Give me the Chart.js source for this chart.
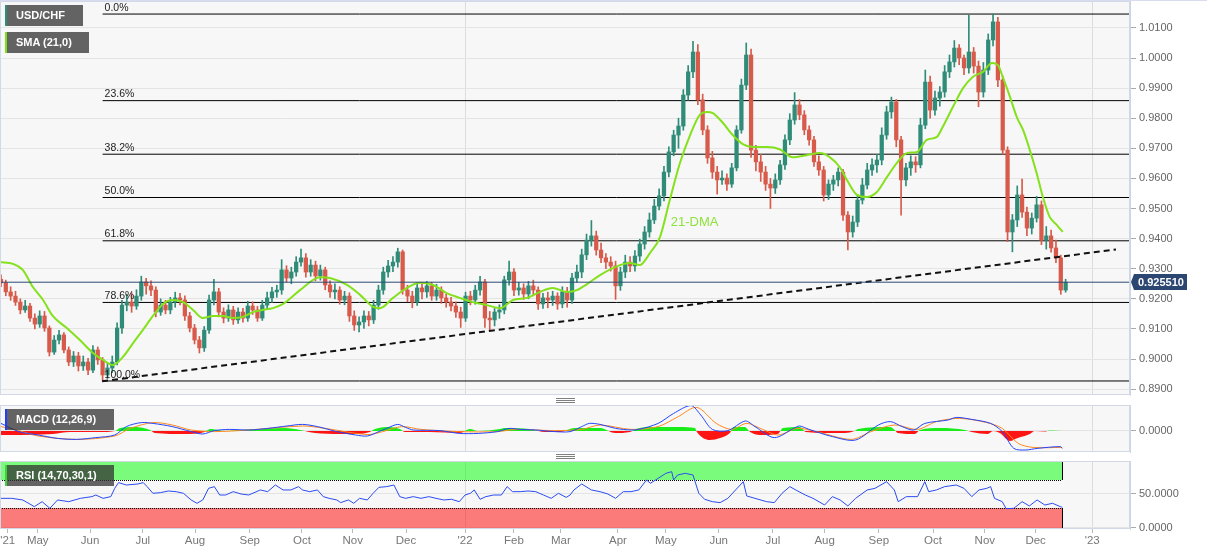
<!DOCTYPE html>
<html><head><meta charset="utf-8">
<script src="https://cdn.jsdelivr.net/npm/chart.js@4.4.1/dist/chart.umd.min.js"></script>
<style>
html,body{margin:0;padding:0;background:#fff;width:1207px;height:555px;overflow:hidden;font-family:"Liberation Sans",Arial,sans-serif}
canvas{position:absolute;left:0}
.tag{position:absolute;left:5px;height:21px;line-height:21px;color:#fff;font-weight:bold;font-size:11px;padding-left:11px;background:rgba(50,50,50,0.75);box-sizing:border-box;z-index:5;white-space:nowrap}
.tag i{position:absolute;left:0;top:0;width:2px;height:100%}
.h{position:absolute;left:556px;width:19px;height:1px;background:#808080;z-index:5}
</style></head><body>
<canvas id="main" width="1207" height="397" style="top:0"></canvas>
<canvas id="macd" width="1207" height="51" style="top:403px"></canvas>
<canvas id="rsi" width="1207" height="97" style="top:458px"></canvas>
<div class="tag" style="top:5px;width:78px"><i style="background:#2f8c78"></i>USD/CHF</div>
<div class="tag" style="top:32px;width:84px"><i style="background:#7fe010"></i>SMA (21,0)</div>
<div class="tag" style="top:409px;width:109px"><i style="background:#1f3dff"></i>MACD (12,26,9)</div>
<div class="tag" style="top:465px;width:109px"><i style="background:#3ad33a"></i>RSI (14,70,30,1)</div>
<div class="h" style="top:398px"></div><div class="h" style="top:400px"></div><div class="h" style="top:402px"></div>
<div class="h" style="top:454px"></div><div class="h" style="top:456px"></div><div class="h" style="top:458px"></div>
<script>
// ---------- DATA ----------
// candles: one candle per two trading days, index 0 = mid-April 2021
const openFirst = 0.9265;
const closes = [
.9253,.9223,.9209,.9189,.9163,.9176,.9136,.9116,.9143,.9103,
.9023,.9063,.9080,.9030,.8990,.9010,.8977,.8990,.8963,.9030,
.8997,.8947,.8970,.8990,.9103,.9179,.9189,.9176,.9209,.9256,
.9243,.9229,.9156,.9179,.9163,.9189,.9203,.9196,.9143,.9103,
.9063,.9037,.9096,.9196,.9223,.9156,.9136,.9163,.9130,.9156,
.9136,.9176,.9163,.9136,.9179,.9203,.9223,.9229,.9296,.9269,
.9289,.9322,.9336,.9289,.9312,.9276,.9296,.9246,.9223,.9229,
.9196,.9209,.9143,.9113,.9123,.9143,.9130,.9179,.9229,.9289,
.9309,.9322,.9356,.9229,.9209,.9189,.9236,.9223,.9243,.9209,
.9229,.9203,.9189,.9176,.9156,.9136,.9209,.9196,.9229,.9256,
.9136,.9130,.9156,.9163,.9263,.9289,.9229,.9236,.9216,.9243,
.9229,.9183,.9203,.9196,.9209,.9183,.9223,.9196,.9269,.9289,
.9346,.9395,.9409,.9362,.9336,.9322,.9309,.9243,.9289,.9322,
.9309,.9342,.9382,.9422,.9462,.9508,.9542,.9621,.9688,.9744,
.9774,.9877,.9954,1.0020,.9861,.9761,.9668,.9621,.9595,.9601,
.9581,.9635,.9761,.9910,1.0010,.9694,.9655,.9621,.9581,.9568,
.9595,.9645,.9728,.9794,.9844,.9811,.9761,.9728,.9655,.9628,
.9545,.9581,.9595,.9621,.9478,.9422,.9455,.9528,.9578,.9628,
.9645,.9661,.9744,.9821,.9854,.9728,.9595,.9635,.9655,.9645,
.9777,.9920,.9827,.9867,.9887,.9954,.9987,1.0033,1.0000,.9967,
1.0020,.9973,.9887,.9960,1.0060,1.0120,.9927,.9694,.9422,.9462,
.9545,.9488,.9435,.9468,.9512,.9395,.9409,.9369,.9336,.9229,
.92551];
const highs = [
.9280,.9262,.9240,.9225,.9200,.9195,.9185,.9150,.9160,.9158,
.9110,.9078,.9095,.9088,.9040,.9025,.9022,.9010,.9002,.9045,
.9040,.9005,.8988,.9010,.9120,.9195,.9215,.9220,.9230,.9275,
.9268,.9260,.9240,.9200,.9195,.9205,.9222,.9218,.9210,.9155,
.9115,.9075,.9108,.9212,.9265,.9235,.9170,.9180,.9175,.9170,
.9168,.9192,.9190,.9175,.9195,.9222,.9238,.9245,.9330,.9310,
.9305,.9340,.9365,.9350,.9330,.9325,.9312,.9305,.9260,.9250,
.9240,.9225,.9220,.9160,.9140,.9160,.9158,.9195,.9245,.9305,
.9328,.9340,.9368,.9362,.9245,.9225,.9255,.9250,.9258,.9255,
.9248,.9240,.9215,.9205,.9190,.9172,.9222,.9225,.9245,.9275,
.9265,.9158,.9168,.9180,.9275,.9325,.9300,.9255,.9250,.9258,
.9262,.9240,.9218,.9222,.9225,.9220,.9240,.9238,.9285,.9312,
.9365,.9415,.9460,.9425,.9385,.9350,.9340,.9325,.9305,.9345,
.9340,.9360,.9398,.9440,.9485,.9530,.9565,.9640,.9705,.9760,
.9800,.9895,.9975,1.0055,1.0045,.9880,.9775,.9690,.9640,.9625,
.9615,.9650,.9775,.9930,1.0050,1.0030,.9710,.9680,.9640,.9600,
.9615,.9660,.9745,.9815,.9885,.9862,.9825,.9775,.9740,.9675,
.9640,.9595,.9610,.9635,.9630,.9490,.9475,.9545,.9600,.9650,
.9665,.9680,.9768,.9840,.9870,.9862,.9740,.9650,.9675,.9672,
.9800,.9960,.9940,.9890,.9905,.9975,1.0010,1.0058,1.0045,1.0010,
1.0143,1.0035,.9990,.9985,1.0080,1.0147,1.0135,.9940,.9705,.9480,
.9575,.9598,.9505,.9485,.9540,.9525,.9440,.9428,.9395,.9345,
.9265];
const lows = [
.9240,.9210,.9195,.9178,.9150,.9155,.9125,.9100,.9105,.9092,
.9010,.9015,.9050,.9020,.8978,.8975,.8960,.8962,.8948,.8955,
.8982,.8927,.8935,.8955,.8980,.9085,.9160,.9155,.9165,.9195,
.9215,.9210,.9140,.9145,.9150,.9150,.9172,.9180,.9128,.9090,
.9050,.9020,.9025,.9085,.9180,.9140,.9120,.9125,.9115,.9118,
.9122,.9125,.9148,.9125,.9128,.9165,.9188,.9205,.9215,.9255,
.9250,.9275,.9308,.9272,.9275,.9260,.9262,.9230,.9205,.9200,
.9182,.9180,.9125,.9095,.9090,.9102,.9110,.9118,.9165,.9215,
.9272,.9290,.9305,.9215,.9190,.9170,.9178,.9200,.9205,.9195,
.9195,.9185,.9172,.9160,.9138,.9105,.9125,.9180,.9182,.9212,
.9105,.9095,.9110,.9135,.9150,.9245,.9210,.9212,.9198,.9200,
.9210,.9165,.9168,.9170,.9178,.9165,.9170,.9172,.9185,.9255,
.9270,.9330,.9375,.9345,.9320,.9300,.9292,.9198,.9228,.9270,
.9290,.9292,.9325,.9365,.9405,.9450,.9495,.9525,.9605,.9675,
.9700,.9760,.9860,.9935,.9845,.9745,.9650,.9600,.9548,.9580,
.9560,.9570,.9625,.9750,.9895,.9670,.9625,.9590,.9560,.9500,
.9550,.9580,.9630,.9712,.9780,.9795,.9745,.9710,.9640,.9610,
.9525,.9530,.9560,.9575,.9460,.9362,.9405,.9440,.9515,.9565,
.9610,.9620,.9645,.9730,.9800,.9705,.9478,.9575,.9610,.9620,
.9635,.9765,.9800,.9810,.9840,.9870,.9935,.9970,.9978,.9945,
.9950,.9950,.9838,.9870,.9945,1.0040,.9905,.9680,.9390,.9356,
.9440,.9470,.9410,.9415,.9455,.9380,.9365,.9355,.9320,.9215,
.9222];
// 21-day SMA: [candle index, value]
const sma21 = [[-0.2,0.9322],[2.5,0.9316],[4.5,0.9296],[6.6,0.9239],[8.7,0.9196],[10.7,0.9143],[13.6,0.9103],[16.3,0.9063],[19,0.9020],[21.1,0.8997],[23.1,0.8980],[25.2,0.9007],[27.3,0.9053],[29.3,0.9096],[31.4,0.9143],[33.5,0.9183],[35.5,0.9196],[37.6,0.9189],[39.7,0.9163],[41.7,0.9136],[43.8,0.9143],[45.9,0.9143],[47.9,0.9136],[50,0.9140],[52.1,0.9156],[54.1,0.9163],[56.2,0.9169],[58.3,0.9183],[61.8,0.9229],[65.9,0.9272],[68,0.9269],[71.5,0.9246],[74.2,0.9213],[76.9,0.9173],[78.3,0.9169],[81,0.9203],[83.9,0.9236],[86.6,0.9253],[89.3,0.9246],[92.1,0.9219],[94.8,0.9203],[97.5,0.9189],[100.4,0.9179],[103.1,0.9169],[105.8,0.9196],[108.7,0.9203],[111.4,0.9223],[114,0.9236],[116.9,0.9223],[119,0.9229],[121.1,0.9249],[123.8,0.9279],[127.9,0.9312],[130,0.9319],[132,0.9312],[134.1,0.9352],[136.2,0.9406],[138.2,0.9528],[140.3,0.9651],[142.4,0.9744],[144.4,0.9811],[145.9,0.9821],[147.1,0.9817],[149.2,0.9784],[151.2,0.9744],[153.3,0.9714],[155.4,0.9704],[158.3,0.9704],[160.9,0.9697],[163.6,0.9670],[166.5,0.9677],[169.2,0.9684],[171.3,0.9670],[173.3,0.9638],[174.8,0.9595],[176.9,0.9545],[178.9,0.9538],[181,0.9555],[183.1,0.9605],[185.1,0.9651],[187.2,0.9684],[189.3,0.9688],[191.3,0.9728],[193.4,0.9738],[194.6,0.9771],[196.7,0.9837],[198.8,0.9900],[200.8,0.9937],[202.9,0.9954],[204.8,0.9983],[206,0.9977],[207,0.9937],[208.5,0.9871],[209.9,0.9804],[211.2,0.9761],[212.6,0.9694],[214,0.9618],[215.3,0.9538],[216.7,0.9472],[218.2,0.9445],[219.4,0.9422]];
// Fibonacci retracement anchors and levels
const fibHigh = 1.0146, fibLow = 0.8927, fibStartIdx = 21;
const fibPct = [0, 23.6, 38.2, 50, 61.8, 78.6, 100];
// trend line anchors
const trendX = [20.9, 230.4], trendY = [0.8926, 0.9364];
const lastPrice = 0.92551;
const dmaLabel = {text:'21-DMA', idx:138.4, value:0.9455};
const priceTicks = [0.89,0.90,0.91,0.92,0.93,0.94,0.95,0.96,0.97,0.98,0.99,1.00,1.01];
// MACD (12,26,9): [candle index, value]
const macdLine = [[0,0.0038],[3.7,-0.0003],[7.7,-0.0020],[11.7,-0.0037],[15.6,-0.0042],[19.6,-0.0033],[23.5,-0.0020],[25.9,0.0022],[29,0.0042],[31.4,0.0038],[35.4,0.0022],[39.3,-0.0003],[41.7,-0.0015],[44.1,0.0002],[47.2,0.0008],[51.2,0.0005],[55.1,0.0013],[59.1,0.0025],[62.3,0.0033],[65.4,0.0022],[69.4,-0.0003],[73.3,-0.0020],[75.7,-0.0025],[78.1,-0.0003],[79.7,0.0013],[82,0.0033],[83.6,0.0018],[85.2,0.0005],[90.7,0.0002],[94.7,-0.0012],[98.6,-0.0012],[102.6,-0.0003],[105,0.0013],[107.3,0.0008],[110.5,0.0005],[114.4,-0.0003],[117.6,-0.0003],[120,0.0022],[121.6,0.0038],[123.8,0.0033],[127,0.0013],[130.2,0.0005],[131.8,0.0008],[135.8,0.0038],[139,0.0088],[142.6,0.0127],[144.6,0.0080],[147,0.0008],[150.2,0.0002],[153.8,0.0050],[155.8,0.0022],[159.8,-0.0033],[163.8,0.0013],[165,0.0025],[167,0.0008],[171.8,-0.0028],[176.6,-0.0045],[181.3,0.0030],[183.8,0.0047],[186.2,0.0022],[188.6,0.0005],[190.9,0.0038],[195.7,0.0055],[197.4,0.0068],[200.6,0.0058],[204.5,0.0038],[206.9,-0.0003],[209.3,-0.0087],[211.8,-0.0095],[214.1,-0.0087],[218.9,-0.0078],[219.3,-0.0087]];
const signalLine = [[0,0.0022],[3.7,0.0002],[7.7,-0.0025],[15.6,-0.0042],[23.5,-0.0025],[26.7,0.0013],[31.4,0.0042],[35.4,0.0030],[39.3,0.0005],[44.1,-0.0003],[51.2,0.0005],[62.3,0.0025],[67,0.0013],[75.7,-0.0018],[78.9,-0.0003],[82.8,0.0022],[86.8,0.0008],[94.7,-0.0003],[102.6,-0.0003],[106.5,0.0008],[114.4,0.0002],[120,0.0008],[123.8,0.0030],[130.2,0.0008],[135.8,0.0022],[139.8,0.0070],[143.8,0.0118],[147.8,0.0038],[151,0.0008],[154.1,0.0038],[157.4,0.0008],[160.6,-0.0020],[164.5,0.0013],[168.5,-0.0003],[175.7,-0.0042],[179.8,-0.0003],[184.6,0.0030],[189.4,0.0008],[193.3,0.0047],[198.1,0.0063],[203.7,0.0042],[206.9,0.0013],[210.2,-0.0062],[213.3,-0.0082],[219.3,-0.0082]];
const macdHist = [[-0.2,-0.0020],[3.9,-0.0020],[10.7,-0.0015],[14.3,-0.0005],[20.5,-0.0005],[23.6,0],[24.6,0.0015],[27.7,0.0020],[30.8,0.0005],[31.8,-0.0010],[38,-0.0015],[42.1,-0.0005],[43.2,0.0010],[46.3,0],[49.4,0.0005],[53.5,0.0010],[58.7,0.0015],[61.8,0.0005],[64.9,-0.0010],[70,-0.0015],[73.1,-0.0015],[76.2,-0.0005],[77.3,0.0010],[80.4,0.0020],[82.4,0.0010],[83.5,-0.0005],[88.6,-0.0005],[94.8,-0.0010],[96.9,0.0010],[98.6,0],[103.1,0.0010],[104.1,0.0015],[109.3,0.0010],[112.4,-0.0005],[115.5,-0.0005],[118.6,0.0015],[123.8,0.0015],[126.9,-0.0010],[130,-0.0005],[131.2,0.0010],[134.1,0.0020],[140.3,0.0020],[143.4,0.0015],[143.8,-0.0005],[146.5,-0.0045],[148.6,-0.0035],[150.6,-0.0010],[151.4,0.0020],[153.7,0.0020],[154.8,-0.0005],[156.8,-0.0020],[160.5,-0.0015],[161.6,0.0015],[165.1,0.0020],[166.3,-0.0005],[171.3,-0.0010],[174.4,-0.0010],[176.4,0],[177.1,0.0010],[183.7,0.0020],[184.7,0.0005],[185.3,-0.0010],[188.8,-0.0015],[189.9,0.0005],[194,0.0015],[199.2,0.0005],[200.6,-0.0005],[203.9,-0.0015],[205,0],[206.4,-0.0010],[208.5,-0.0050],[210.1,-0.0035],[212.6,-0.0015],[213.6,0],[215.7,-0.0003],[216.7,0.0003],[219.4,0]];
// RSI (14): [candle index, value]
const rsi14 = [[0,43.6],[2.2,43.6],[4.5,41.2],[6.9,31.4],[8.5,38.7],[10.1,28.9],[11.7,41.2],[14,38.7],[16.4,43.6],[18.8,46.1],[19.6,48.5],[21.1,43.6],[22.7,46.1],[23.5,58.3],[24.3,66.7],[25.9,63.2],[28.3,64.7],[29.4,66.7],[30.2,60.8],[31.4,51],[33,52],[34.6,54.4],[36.2,53.4],[37.7,51],[39.3,41.2],[40.5,36.3],[41.7,41.2],[42.9,58.3],[44.1,60.8],[45.2,48.5],[46.4,48.5],[48,53.4],[49.6,50],[51.2,48.5],[53.6,55.9],[55.1,53.4],[56.7,63.2],[58.3,55.9],[59.9,55.9],[61.5,60.8],[62.3,55.9],[63.8,53.4],[65.4,55.9],[66.6,46.1],[67.8,43.6],[69.4,41.2],[70.2,37.3],[71.8,41.2],[72.9,36.3],[74.1,43.6],[75.7,41.2],[76.9,51],[78.1,59.8],[79.7,60.8],[81.2,63.2],[82.4,46.1],[83.6,43.6],[85.2,46.1],[86.8,43.6],[88.4,46.1],[89.9,43.6],[91.5,41.2],[93.1,42.2],[94.7,38.7],[95.9,48.5],[97,51],[97.8,55.9],[99,42.2],[100.2,46.1],[101.8,48.5],[103.4,48.5],[104.6,60.8],[105.7,53.4],[107.3,53.4],[108.9,54.4],[110.5,53.4],[112.1,48.5],[113.7,43.6],[115.2,51],[116.8,45],[117.6,48.5],[118.4,55.9],[120,64.7],[122,55.9],[123.8,53.4],[125.4,50],[127,43.6],[128.6,53.4],[130.2,53.4],[131.8,55.9],[133.4,70.6],[134.2,65.7],[135.8,73],[137.4,80.4],[138.6,82.8],[139,70.6],[139.8,77.9],[141.4,80.4],[143,77.9],[144.2,51],[145.4,42.2],[147,38.7],[148.6,37.3],[150.2,43.6],[151.8,55.9],[153.4,68.1],[154.1,47.1],[155.8,43.6],[158.2,38.7],[159.8,37.3],[161.4,51],[163,60.8],[164.5,54.9],[166.2,48.5],[167.8,43.6],[170.2,33.8],[171.8,46.1],[173.4,41.2],[175,32.4],[176.6,43.6],[179,55.9],[180.6,58.3],[183,68.1],[184.6,55.9],[185.4,38.7],[187.1,46.1],[189.4,46.1],[190.9,68.1],[191.7,53.4],[193.3,55.9],[195,60.8],[197.4,63.2],[199,58.3],[200.6,46.1],[202.1,55.9],[203.7,58.3],[204.5,60.8],[205.3,43.6],[206.9,38.7],[207.7,28.4],[209.3,28.9],[211,38.7],[212.5,32.4],[214.1,41.2],[215.7,33.8],[217.3,36.3],[218.9,31.4],[219.3,30.4]];
const rsiUpper = 70, rsiLower = 30;
// time axis labels (candle index positions)
const monthLabels = ["'21","May","Jun","Jul","Aug","Sep","Oct","Nov","Dec","'22","Feb","Mar","Apr","May","Jun","Jul","Aug","Sep","Oct","Nov","Dec","'23"];
const monthIdx = [1.4,7.6,18.4,29.3,40.1,51.4,62.2,72.7,83.7,95.9,106,115.7,127.5,137.4,148.3,159.5,170.2,181.4,192.6,203.3,213.8,225.5];
const yearIdx = [95.9,225.5];

// ---------- STYLE / BUILD ----------
const FONT = '"Liberation Sans", Arial, sans-serif';
Chart.defaults.font.family = FONT;
const GREEN = '#2f8c78', RED = '#d75a4a';
const X_MIN = -0.2, X_MAX = 233.3;
const opens = closes.map((c,i) => i === 0 ? openFirst : closes[i-1]);
const candleColors = closes.map((c,i) => c >= opens[i] ? GREEN : RED);
const toXY = arr => arr.map(p => ({x:p[0], y:p[1]}));
const fibLevels = fibPct.map(p => fibHigh - (fibHigh - fibLow) * p / 100);

const fixY = s => { s.width = 77; s.paddingTop = 0; s.paddingBottom = 0; };
const hiddenX = () => ({
  type:'linear', min:X_MIN, max:X_MAX, offset:false,
  afterBuildTicks: s => { s.ticks = yearIdx.map(v => ({value:v})); },
  ticks:{display:false}, grid:{color:'#dcdcdc', drawTicks:false, offset:false}, border:{display:false},
  afterFit: s => { s.height = 0; s.paddingLeft = 0; s.paddingRight = 0; }
});
const yAxisBase = {
  position:'right',
  ticks:{color:'#666', font:{size:11, family:FONT}, padding:3},
  grid:{color:'#e4e4e4', tickLength:6, tickColor:'#aaa'},
  border:{display:true, color:'#cfd6e3'},
  afterFit: fixY
};
const panelBg = {
  id:'panelBg',
  beforeDraw(c){ const a=c.chartArea, ctx=c.ctx; ctx.save(); ctx.fillStyle='#f7f7f7'; ctx.fillRect(a.left,a.top,a.right-a.left,a.bottom-a.top); ctx.restore(); },
  afterDraw(c){ const a=c.chartArea, ctx=c.ctx; ctx.save(); ctx.strokeStyle='#d2d9e6'; ctx.lineWidth=1; ctx.strokeRect(a.left+0.5,a.top+0.5,a.right-a.left-1,a.bottom-a.top-1); ctx.restore(); }
};
const common = {responsive:false, animation:false, events:[], devicePixelRatio:1,
  plugins:{legend:{display:false}, tooltip:{enabled:false}}};

// main chart decorations
const mainDeco = {
  id:'mainDeco',
  afterDatasetsDraw(c){
    const ctx=c.ctx, xs=c.scales.x, ys=c.scales.y;
    ctx.save();
    ctx.font = '10.5px ' + FONT; ctx.fillStyle = '#222'; ctx.textAlign='left'; ctx.textBaseline='bottom';
    fibPct.forEach((p,k) => ctx.fillText(p.toFixed(1)+'%', xs.getPixelForValue(fibStartIdx)+2, ys.getPixelForValue(fibLevels[k])-1));
    ctx.font = '13px ' + FONT; ctx.fillStyle = '#8ee23a'; ctx.textBaseline='middle';
    ctx.fillText(dmaLabel.text, xs.getPixelForValue(dmaLabel.idx), ys.getPixelForValue(dmaLabel.value));
    ctx.restore();
  },
  afterDraw(c){
    const ctx=c.ctx, ys=c.scales.y, a=c.chartArea;
    ctx.save();
    ctx.fillStyle='#d9dcef'; ctx.fillRect(0,0,c.width,1);
    const y = Math.round(ys.getPixelForValue(lastPrice));
    const x0 = a.right + 4;
    ctx.fillStyle = '#2b4670';
    ctx.beginPath(); ctx.moveTo(x0-3,y); ctx.lineTo(x0,y-8); ctx.lineTo(x0+53,y-8); ctx.lineTo(x0+53,y+8); ctx.lineTo(x0,y+8); ctx.closePath(); ctx.fill();
    ctx.fillStyle='#fff'; ctx.font='bold 11px '+FONT; ctx.textBaseline='middle'; ctx.textAlign='left';
    ctx.fillText(lastPrice.toFixed(6), x0+4, y+0.5);
    ctx.restore();
  }
};

const idxs = closes.map((_,i) => i);
new Chart(document.getElementById('main'), {
  type:'bar',
  data:{datasets:[
    {type:'line', data:[{x:X_MIN,y:lastPrice},{x:X_MAX,y:lastPrice}], borderColor:'#2c4a74', borderWidth:1, pointRadius:0, order:0},
    {type:'line', data:trendX.map((x,i)=>({x, y:trendY[i]})), borderColor:'#111', borderWidth:2, borderDash:[6,4], pointRadius:0, order:1},
    {type:'line', data:toXY(sma21), borderColor:'#84e11c', borderWidth:2, pointRadius:0, cubicInterpolationMode:'monotone', order:2},
    {type:'bar', data:idxs.map(i=>({x:i, y:[opens[i], closes[i]]})), backgroundColor:candleColors, barThickness:3.6, grouped:false, minBarLength:1, order:3},
    {type:'bar', data:idxs.map(i=>({x:i, y:[lows[i], highs[i]]})), backgroundColor:candleColors, barThickness:1, grouped:false, order:4},
    ...fibLevels.map(v => ({type:'line', data:[{x:fibStartIdx,y:v},{x:X_MAX,y:v}], borderColor:'#000', borderWidth:1, pointRadius:0, order:5}))
  ]},
  options:{...common,
    layout:{padding:{top:1,bottom:2,left:0,right:0}},
    scales:{
      x: hiddenX(),
      y: {...yAxisBase, min:0.888040, max:1.018937,
          afterBuildTicks: s => { s.ticks = priceTicks.map(v=>({value:v})); },
          ticks:{...yAxisBase.ticks, callback: v => v.toFixed(4)}}
    }
  },
  plugins:[panelBg, mainDeco]
});

new Chart(document.getElementById('macd'), {
  type:'line',
  data:{datasets:[
    {data:toXY(macdLine), borderColor:'#2446ff', borderWidth:1, pointRadius:0, tension:0.3, order:0},
    {data:toXY(signalLine), borderColor:'#ff8a1c', borderWidth:1, pointRadius:0, tension:0.3, order:1},
    {data:toXY(macdHist), borderWidth:0, borderColor:'rgba(0,0,0,0)', pointRadius:0, cubicInterpolationMode:'monotone',
     fill:{target:{value:0}, above:'#19ec19', below:'#ff1414'}, order:2}
  ]},
  options:{...common,
    layout:{padding:{top:2,bottom:2,left:0,right:0}},
    scales:{
      x: hiddenX(),
      y: {...yAxisBase, min:-0.0105, max:0.013,
          afterBuildTicks: s => { s.ticks = [{value:0}]; },
          ticks:{...yAxisBase.ticks, callback: v => v.toFixed(4)}}
    }
  },
  plugins:[panelBg]
});

const rsiBands = {
  id:'rsiBands',
  beforeDatasetsDraw(c){
    const ctx=c.ctx, xs=c.scales.x, ys=c.scales.y, a=c.chartArea;
    const l = a.left, r = Math.round(xs.getPixelForValue(rsi14[rsi14.length-1][0]));
    const y70 = Math.round(ys.getPixelForValue(rsiUpper)), y30 = Math.round(ys.getPixelForValue(rsiLower));
    ctx.save();
    ctx.fillStyle='rgba(0,255,0,0.5)'; ctx.fillRect(l, a.top+1, r-l, y70-a.top-1);
    ctx.fillStyle='rgba(255,0,0,0.5)'; ctx.fillRect(l, y30, r-l, a.bottom-y30);
    ctx.strokeStyle='#000'; ctx.lineWidth=1;
    ctx.setLineDash([1,1]);
    ctx.beginPath(); ctx.moveTo(l,y70+0.5); ctx.lineTo(r,y70+0.5); ctx.moveTo(l,y30+0.5); ctx.lineTo(r,y30+0.5); ctx.stroke();
    ctx.setLineDash([]);
    ctx.beginPath(); ctx.moveTo(r+0.5,a.top+1); ctx.lineTo(r+0.5,y70); ctx.moveTo(r+0.5,y30); ctx.lineTo(r+0.5,a.bottom);
    ctx.moveTo(l+0.5,y30); ctx.lineTo(l+0.5,a.bottom); ctx.stroke();
    ctx.restore();
  }
};

new Chart(document.getElementById('rsi'), {
  type:'line',
  data:{datasets:[
    {data:toXY(rsi14), borderColor:'#2b4cf2', borderWidth:1, pointRadius:0, tension:0}
  ]},
  options:{...common,
    layout:{padding:{top:3,bottom:0,left:0,right:0}},
    scales:{
      x:{type:'linear', min:X_MIN, max:X_MAX, offset:false,
         afterBuildTicks: s => { s.ticks = monthIdx.map(v=>({value:v})); },
         ticks:{autoSkip:false, maxRotation:0, minRotation:0, padding:1, color:'#777', font:{size:11.5, family:FONT},
                callback:(v,i) => monthLabels[i]},
         grid:{color: ctx => (ctx.tick && yearIdx.includes(ctx.tick.value)) ? '#dcdcdc' : 'rgba(0,0,0,0)', tickLength:4, tickColor:'#bbb', offset:false},
         border:{display:false},
         afterFit: s => { s.height = 26; s.paddingLeft = 0; s.paddingRight = 0; }},
      y: {...yAxisBase, min:-1.5, max:98.5,
          afterBuildTicks: s => { s.ticks = [{value:0},{value:50}]; },
          ticks:{...yAxisBase.ticks, callback: v => v.toFixed(4)}}
    }
  },
  plugins:[panelBg, rsiBands]
});
</script>
</body></html>
